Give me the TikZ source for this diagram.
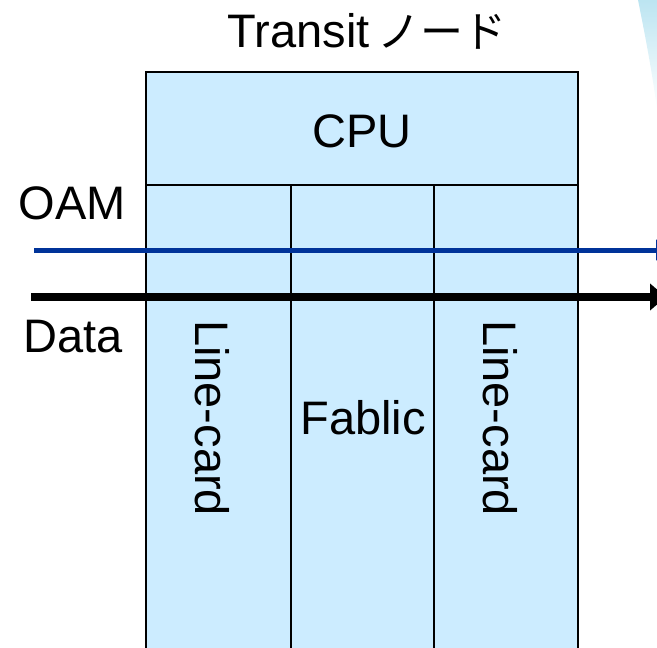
\documentclass[tikz,border=0pt]{standalone}
\usepackage{fontspec}
\setmainfont{Liberation Sans}
\newfontfamily\jpfont{Noto Sans CJK JP}
\usetikzlibrary{arrows.meta}
\definecolor{cardfill}{HTML}{CCECFF}
\definecolor{oamblue}{HTML}{003399}
\definecolor{swoosh}{HTML}{8FD3E8}
\tikzset{
  px/.style={x=1pt,y=-1pt},
  frame/.style={draw=black,line width=2pt,fill=cardfill},
  divider/.style={draw=black,line width=1.6pt},
  lbl/.style={font=\fontsize{47}{49}\selectfont,inner sep=0pt},
  oamline/.style={draw=oamblue,line width=5pt,-{Triangle[length=16pt,width=20pt]}},
  dataline/.style={draw=black,line width=8pt,-{Triangle[length=16pt,width=26pt]}}
}
\begin{document}
\begin{tikzpicture}[px]
  \useasboundingbox (0,0) rectangle (657,648);
  \clip (0,0) rectangle (657,648);
  % decorative corner swoosh
  \shade[top color=swoosh,bottom color=white,opacity=0.6]
    (638,0) -- (657,0) -- (657,110) .. controls (652,70) and (644,30) .. (638,0) -- cycle;
  % node frame
  \path[frame] (146,72) rectangle (578,660);
  \coordinate (cpuL) at (146,185);
  \coordinate (cpuR) at (578,185);
  \draw[divider] (cpuL) -- (cpuR);
  \coordinate (d1t) at (291,185);
  \coordinate (d1b) at (291,660);
  \coordinate (d2t) at (434,185);
  \coordinate (d2b) at (434,660);
  \draw[divider] (d1t) -- (d1b);
  \draw[divider] (d2t) -- (d2b);
  % labels
  \node[lbl] (title) at (367,31) {Transit\,{\jpfont\fontsize{43}{45}\selectfont ノード}};
  \node[lbl] (cpu) at (362,131) {CPU};
  \node[lbl] (oam) at (72,203) {OAM};
  \node[lbl] (data) at (73,337) {Data};
  \node[lbl,rotate=-90] (lc1) at (212,418) {Line-card};
  \node[lbl] (fab) at (363,418) {Fablic};
  \node[lbl,rotate=-90] (lc2) at (500,418) {Line-card};
  % flows
  \coordinate (oamS) at (34,250);
  \coordinate (oamE) at (672,250);
  \coordinate (dataS) at (31,297);
  \coordinate (dataE) at (666,297);
  \draw[oamline] (oamS) -- (oamE);
  \draw[dataline] (dataS) -- (dataE);
\end{tikzpicture}
\end{document}
